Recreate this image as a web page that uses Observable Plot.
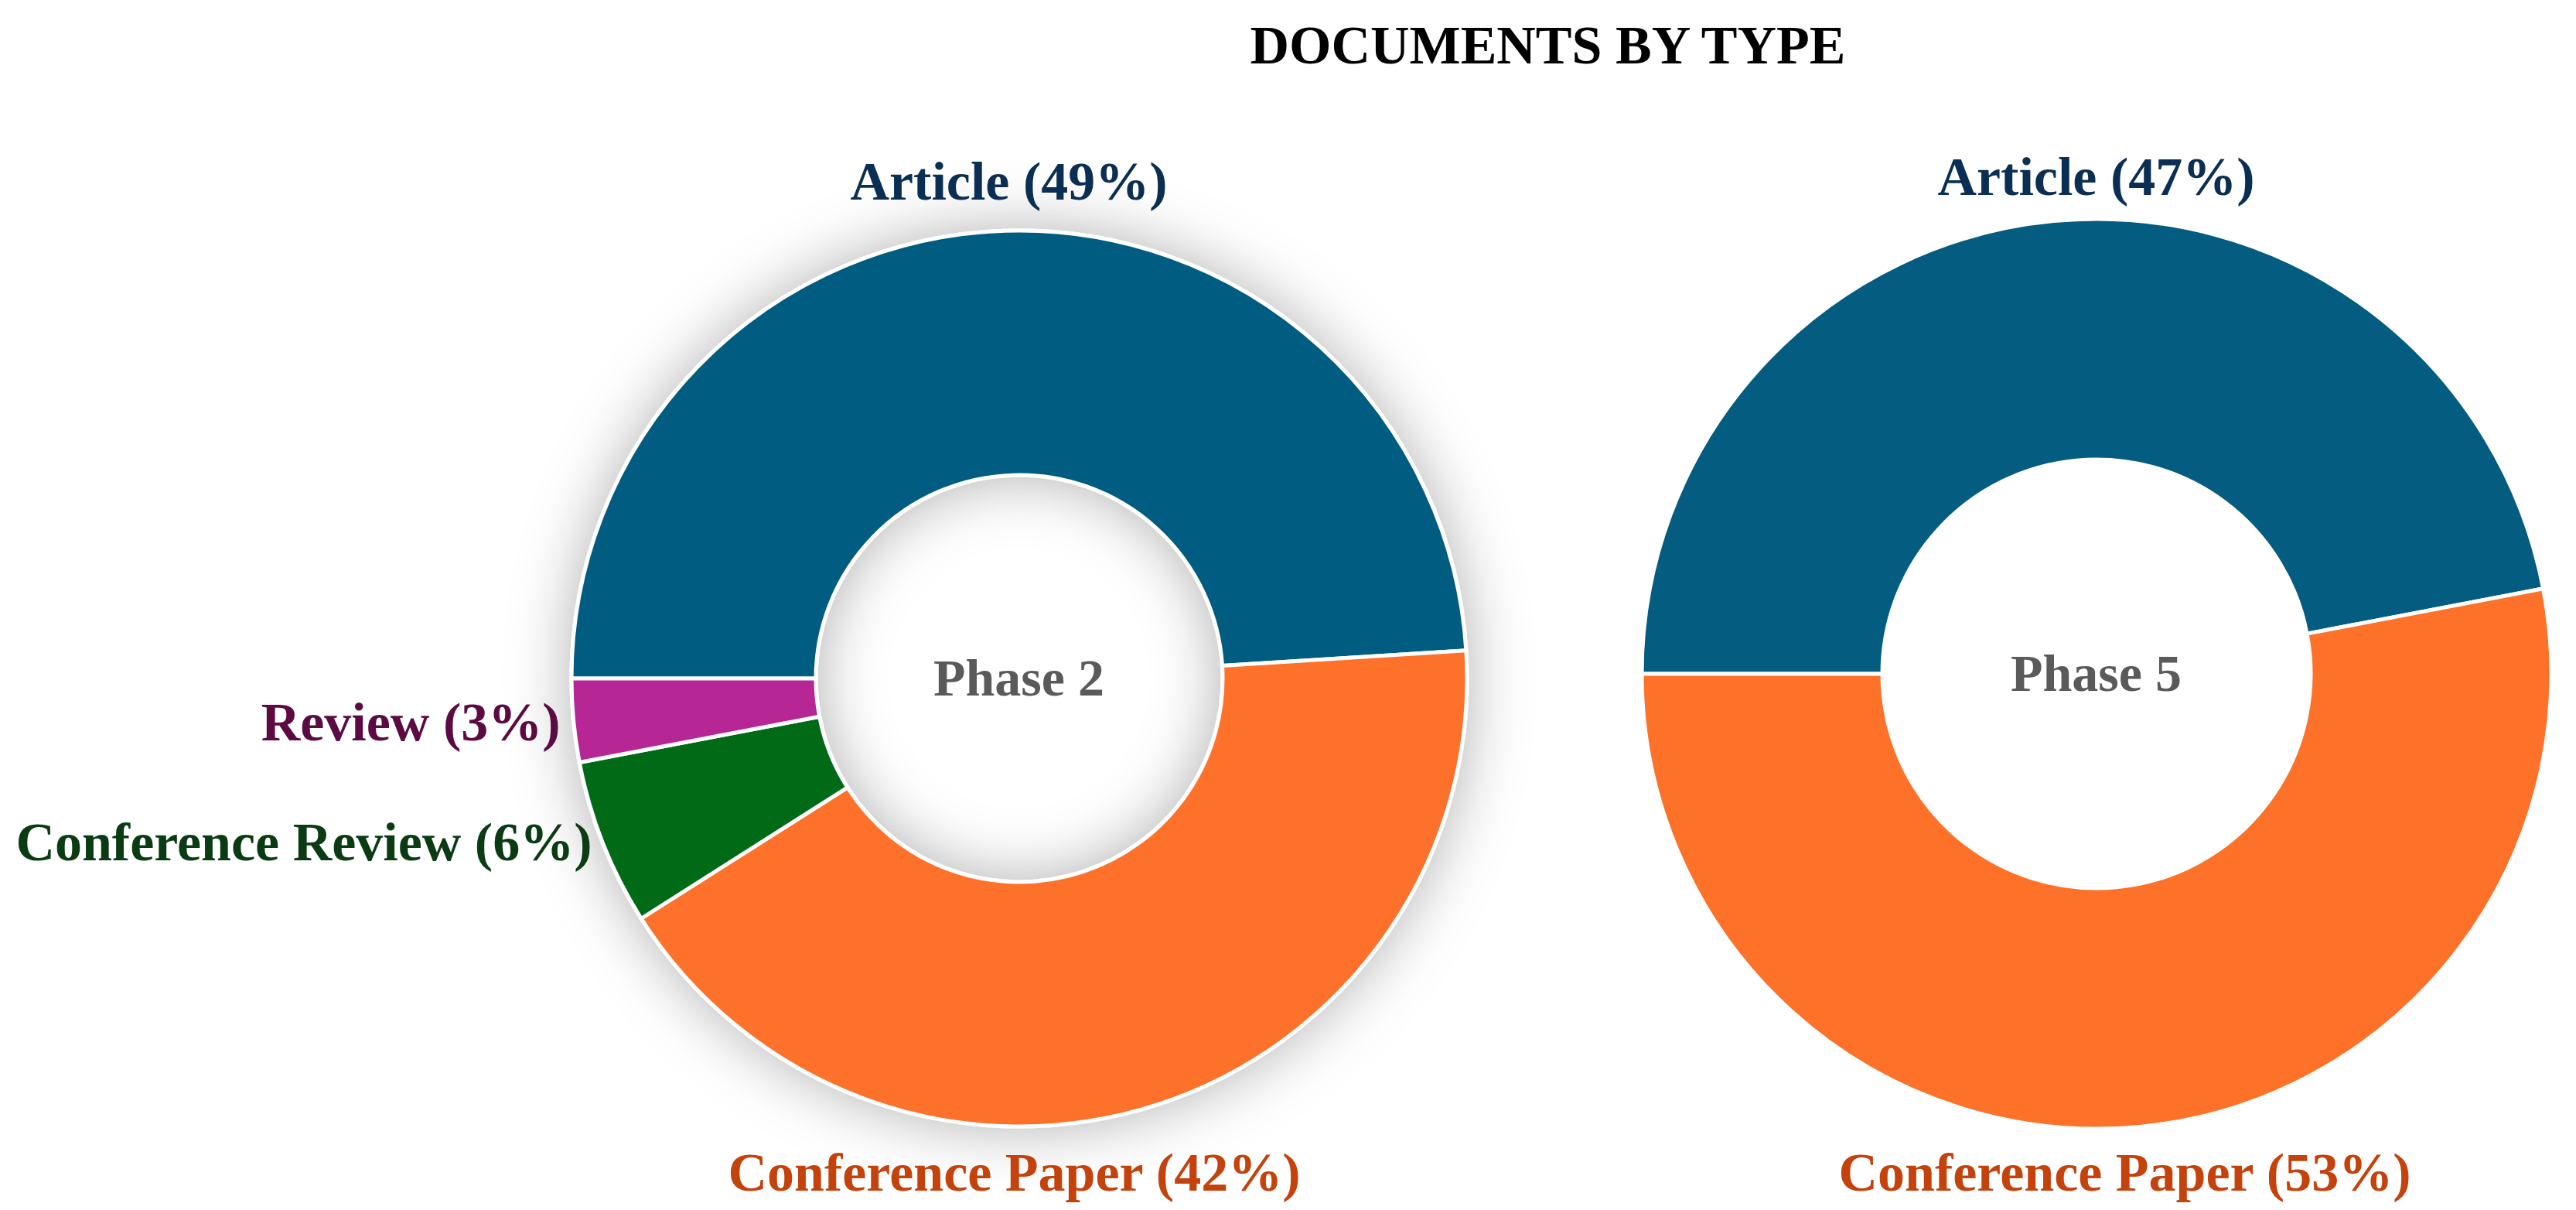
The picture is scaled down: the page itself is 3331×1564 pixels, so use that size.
<!DOCTYPE html>
<html><head><meta charset="utf-8">
<script src="https://cdn.jsdelivr.net/npm/d3@7"></script>
<script src="https://cdn.jsdelivr.net/npm/@observablehq/plot@0.6"></script>
<style>html,body{margin:0;padding:0;background:#fff;} svg{display:block}</style>
</head><body><div id="chart"></div>
<script>
// ---- data ----
const chartTitle = "DOCUMENTS BY TYPE";
const phases = ["Phase 2", "Phase 5"];
const categories = ["Article", "Conference Paper", "Conference Review", "Review"];
const phase2Categories = ["Article", "Conference Paper", "Conference Review", "Review"];
const phase2Shares = [49, 42, 6, 3];
const phase5Categories = ["Article", "Conference Paper"];
const phase5Shares = [47, 53];

// ---- styles / layout ----
const sliceColors = ["#045c80", "#fe7129", "#046a17", "#b62794"];
const labelColors = {"Article": "#0b2f52", "Conference Paper": "#c4420c", "Conference Review": "#0a3b12", "Review": "#5b0b42"};
const W = 3331, H = 1564;
const FONT = "'Liberation Serif', 'Times New Roman', serif";
const donutLayout = {
  "Phase 2": {cx: 1318, cy: 877, r: 579, r0: 263, shadow: true, label: {x: 1317, y: 898}},
  "Phase 5": {cx: 2711, cy: 871, r: 588, r0: 277, shadow: false, label: {x: 2710, y: 892}}
};
const labelLayout = {
  "Phase 2|Article": {x: 1304, y: 257, anchor: "middle"},
  "Phase 2|Conference Paper": {x: 1311, y: 1538, anchor: "middle"},
  "Phase 2|Review": {x: 724, y: 956, anchor: "end"},
  "Phase 2|Conference Review": {x: 765, y: 1111, anchor: "end"},
  "Phase 5|Article": {x: 2710, y: 251, anchor: "middle"},
  "Phase 5|Conference Paper": {x: 2747, y: 1538, anchor: "middle"}
};

const rows = [
  ...phase2Categories.map((c, i) => ({phase: "Phase 2", category: c, value: phase2Shares[i]})),
  ...phase5Categories.map((c, i) => ({phase: "Phase 5", category: c, value: phase5Shares[i]}))
];

function donutMark(index, scales) {
  const g = d3.create("svg:g");
  const defs = g.append("defs");
  const f = defs.append("filter").attr("id", "ringShadow")
    .attr("x", "-40%").attr("y", "-40%").attr("width", "180%").attr("height", "180%");
  f.append("feDropShadow").attr("dx", 0).attr("dy", 0).attr("stdDeviation", 40)
    .attr("flood-color", "#000").attr("flood-opacity", 0.3);
  for (const ph of phases) {
    const L = donutLayout[ph];
    const data = rows.filter(d => d.phase === ph);
    const cx = scales.x(L.cx), cy = scales.y(L.cy);
    const r = scales.x(L.cx + L.r) - cx, r0 = scales.x(L.cx + L.r0) - cx;
    const pie = d3.pie().sort(null).value(d => d.value)
      .startAngle(-Math.PI / 2).endAngle(3 * Math.PI / 2);
    const arc = d3.arc().innerRadius(r0).outerRadius(r);
    const gg = g.append("g").attr("transform", `translate(${cx},${cy})`);
    if (L.shadow) gg.attr("filter", "url(#ringShadow)");
    gg.selectAll("path").data(pie(data)).join("path")
      .attr("d", arc)
      .attr("fill", d => scales.color(d.data.category))
      .attr("stroke", "#fff").attr("stroke-width", 5).attr("stroke-linejoin", "round");
  }
  return g.node();
}

const labelMarks = rows.map(d => {
  const p = labelLayout[d.phase + "|" + d.category];
  return Plot.text([d], {
    x: () => p.x, y: () => p.y, text: d => `${d.category} (${d.value}%)`,
    textAnchor: p.anchor, lineAnchor: "bottom", fill: labelColors[d.category],
    fontSize: 70, fontWeight: "bold", fontFamily: FONT
  });
});

const chart = Plot.plot({
  width: W, height: H,
  margin: 0,
  x: {domain: [0, W], range: [0, W], axis: null},
  y: {domain: [0, H], range: [0, H], axis: null},
  color: {domain: categories, range: sliceColors},
  style: {background: "#fff", fontFamily: FONT},
  marks: [
    Plot.dot(rows, {x: () => 0, y: () => 0, fill: "category", r: 0}),
    donutMark,
    Plot.text(phases, {
      x: d => donutLayout[d].label.x, y: d => donutLayout[d].label.y, text: d => d,
      lineAnchor: "bottom", fill: "#5a5a5a", fontSize: 68, fontWeight: "bold", fontFamily: FONT
    }),
    ...labelMarks,
    Plot.text([chartTitle], {
      x: () => 2001, y: () => 81, text: d => d, lineAnchor: "bottom",
      fill: "#000", fontSize: 70, fontWeight: "bold", fontFamily: FONT
    })
  ]
});
document.getElementById("chart").append(chart);
</script></body></html>
